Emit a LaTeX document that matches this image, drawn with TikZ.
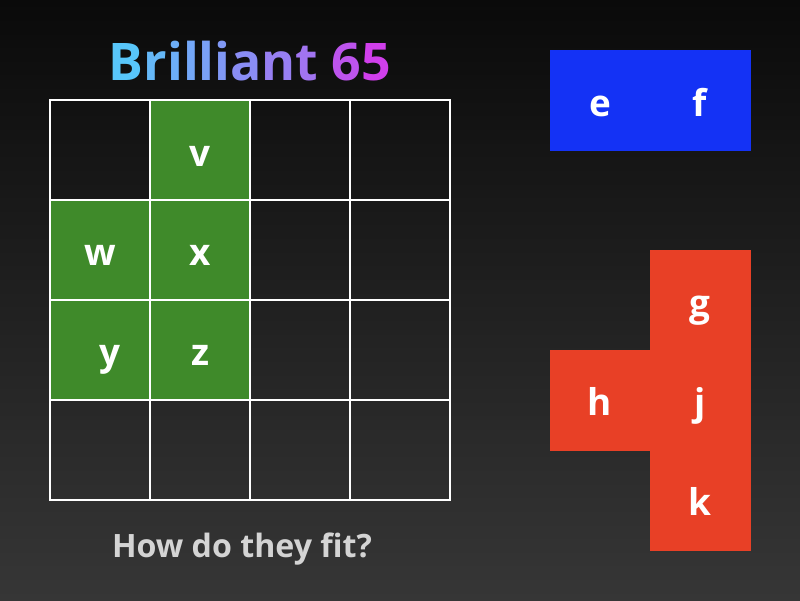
\documentclass[tikz,border=0pt]{standalone}
\usepackage{fontspec}
\setmainfont{Open Sans}
\usepackage{tikz}
\usetikzlibrary{positioning}

\definecolor{bgtop}{RGB}{10,10,10}
\definecolor{bgbottom}{RGB}{54,54,54}
\definecolor{tilegreen}{RGB}{63,138,42}
\definecolor{tileblue}{RGB}{20,50,245}
\definecolor{tilered}{RGB}{232,64,38}
\definecolor{titleleft}{RGB}{88,198,250}
\definecolor{titleright}{RGB}{214,56,234}
\definecolor{asktext}{RGB}{212,212,212}

\newcommand{\tc}[2]{\textcolor{titleright!#1!titleleft}{#2}}

\begin{document}
\begin{tikzpicture}[
    x=0.02cm, y=-0.02cm,
    node distance=0pt,
    tile/.style={
        rectangle, minimum size=2cm, inner sep=0pt, outer sep=0pt,
        text=white, font=\fontsize{21}{21}\selectfont\bfseries,
        text height=0.64cm, text depth=0pt, line width=0.2pt
    },
    greentile/.style={tile, fill=tilegreen, draw=tilegreen},
    bluetile/.style={tile, fill=tileblue, draw=tileblue},
    redtile/.style={tile, fill=tilered, draw=tilered},
    cell/.style={draw=white, line width=1.1pt, minimum size=2cm,
                 inner sep=0pt, outer sep=0pt},
]
\useasboundingbox (0,0) rectangle (800,600);
\shade[top color=bgtop, bottom color=bgbottom] (0,0) rectangle (800,600);

% title
\node[anchor=base, font=\fontsize{29.5}{29.5}\selectfont\bfseries] (title) at (250,80)
    {\tc{0}{B}\tc{10}{r}\tc{17}{i}\tc{22}{l}\tc{27}{l}\tc{32}{i}\tc{40}{a}\tc{50}{n}\tc{58}{t} \tc{80}{6}\tc{95}{5}};

% green piece
\node[greentile] (v) at (200,150) {v};
\node[greentile, below=of v] (x) {x};
\node[greentile, left=of x] (w) {w};
\node[greentile, below=of w] (y) {\hspace*{0.4cm}y};
\node[greentile, below=of x] (z) {z};

% board
\foreach \r in {0,...,3}
  \foreach \c in {0,...,3}
    \node[cell] (cell\r\c) at (100+100*\c, 150+100*\r) {};

% blue piece
\node[bluetile] (e) at (600,100) {e};
\node[bluetile, right=of e] (f) {f};

% red piece
\node[redtile] (g) at (700,300) {g};
\node[redtile, below=of g] (j) {j};
\node[redtile, left=of j] (h) {h};
\node[redtile, below=of j] (k) {k};

\node[anchor=base, text=asktext, font=\fontsize{18.3}{18.3}\selectfont\bfseries] (ask) at (242,557)
    {How do they fit?};

\end{tikzpicture}
\end{document}
